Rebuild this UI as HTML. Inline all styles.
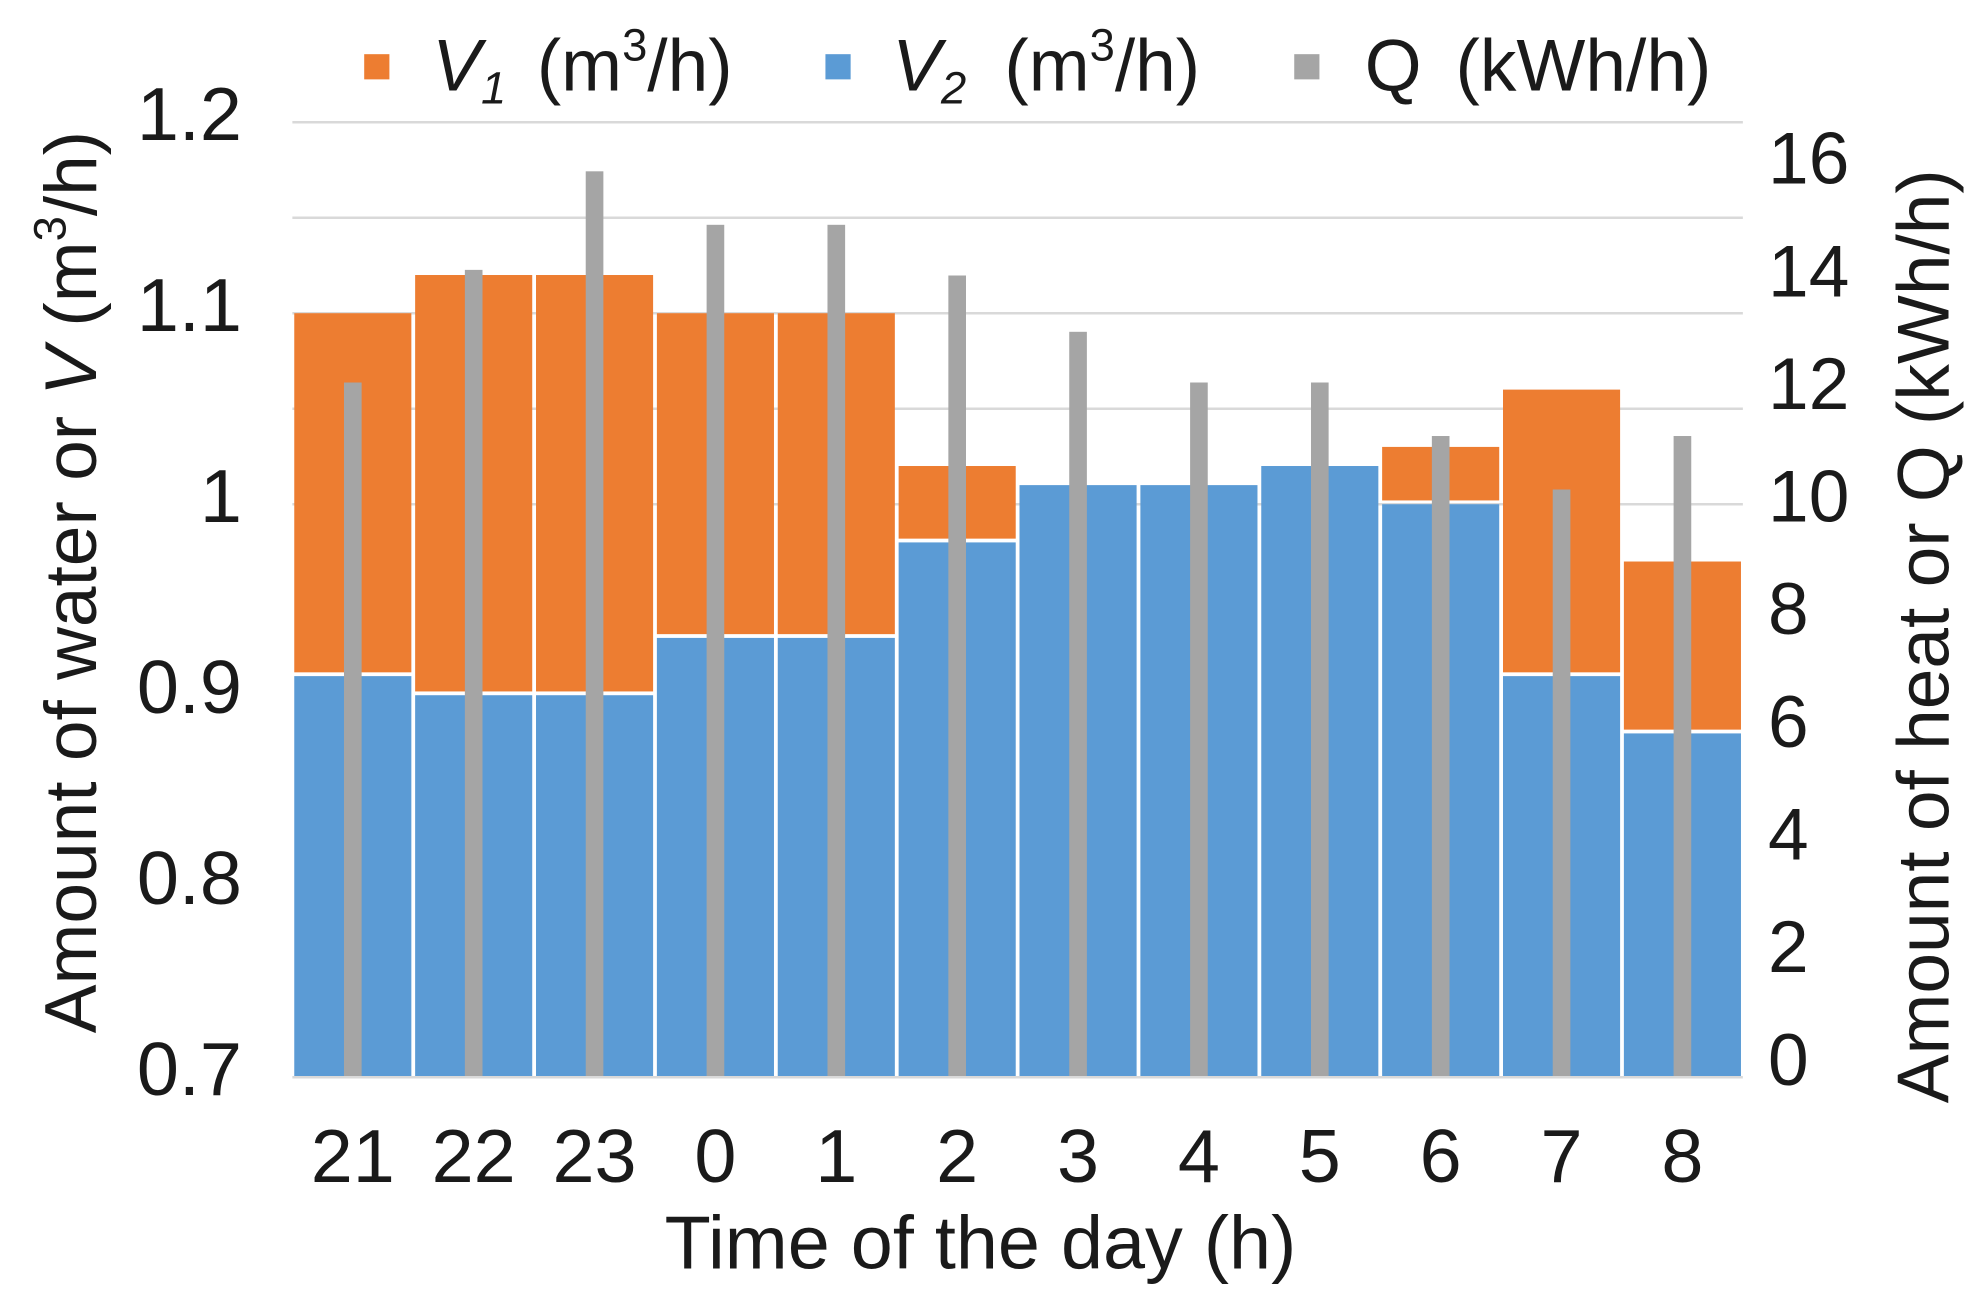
<!DOCTYPE html>
<html><head><meta charset="utf-8"><style>
html,body{margin:0;padding:0;background:#fff}
svg{display:block}
text{font-family:"Liberation Sans",Arial,sans-serif;fill:#1a1a1a}
</style></head><body>
<svg id="chart" width="1976" height="1304" viewBox="0 0 1568 1035" preserveAspectRatio="none">
<g id="grid"></g>
<g id="bars"></g>
<g id="axes"></g>
<g>
 <rect x="289" y="43" width="20" height="20" fill="#ED7D31"/>
 <text x="343" y="72" font-size="58"><tspan font-style="italic">V</tspan><tspan font-size="36" font-style="italic" dy="10">1</tspan><tspan dy="-10" x="426">(m</tspan><tspan font-size="36" dy="-24">3</tspan><tspan dy="24">/h)</tspan></text>
 <rect x="655" y="43" width="20" height="20" fill="#5B9BD5"/>
 <text x="708" y="72" font-size="58"><tspan font-style="italic">V</tspan><tspan font-size="36" font-style="italic" dy="10">2</tspan><tspan dy="-10" x="797">(m</tspan><tspan font-size="36" dy="-24">3</tspan><tspan dy="24">/h)</tspan></text>
 <rect x="1027" y="43" width="20" height="20" fill="#A5A5A5"/>
 <text x="1083" y="72" font-size="58">Q<tspan x="1155">(kWh/h)</tspan></text>
</g>
<text transform="translate(76,462) rotate(-90)" text-anchor="middle" font-size="58">Amount of water or <tspan font-style="italic">V</tspan> (m<tspan font-size="36" dy="-24">3</tspan><tspan dy="24">/h)</tspan></text>
<text transform="translate(1546,505) rotate(-90)" text-anchor="middle" font-size="58">Amount of heat or Q (kWh/h)</text>
<text x="778" y="1007" text-anchor="middle" font-size="60">Time of the day (h)</text>
</svg>
<script>
const categories=["21","22","23","0","1","2","3","4","5","6","7","8"];
const v2Values=[0.91,0.90,0.90,0.93,0.93,0.98,1.01,1.01,1.02,1.00,0.91,0.88];
const totalValues=[1.10,1.12,1.12,1.10,1.10,1.02,1.01,1.01,1.02,1.03,1.06,0.97];
const qValues=[12.0,14.0,15.75,14.8,14.8,13.9,12.9,12.0,12.0,11.05,10.1,11.05];
const leftTicks=[0.7,0.8,0.9,1.0,1.1,1.2];
const leftTickLabels=["0.7","0.8","0.9","1","1.1","1.2"];
const rightTicks=[0,2,4,6,8,10,12,14,16];
const NS="http://www.w3.org/2000/svg";
const X0=232,X1=1383,YB=855,YT=97;
const yL=v=>YB-(v-0.7)/(0.5)*(YB-YT);
const yR=q=>840-q*44.7;
const bw=(X1-X0)/categories.length;
const xC=i=>X0+bw*(i+0.5);
function mk(tag,attrs,parent){const e=document.createElementNS(NS,tag);for(const k in attrs)e.setAttribute(k,attrs[k]);parent.appendChild(e);return e;}
const grid=document.getElementById('grid'),bars=document.getElementById('bars'),axes=document.getElementById('axes');
for(let v=1.0;v<=1.2001;v+=0.05){
 const l=mk('line',{x1:X0,x2:X1,y1:yL(v),y2:yL(v),stroke:'#d9d9d9','stroke-width':2},grid);
 
 
}
categories.forEach((c,i)=>{
 const x=X0+bw*i+1.5,w=bw-3;
 const b=mk('rect',{x:x,y:yL(v2Values[i]),width:w,height:YB-yL(v2Values[i]),fill:'#5B9BD5'},bars);
 
 
 if(totalValues[i]>v2Values[i]){
  const o=mk('rect',{x:x,y:yL(totalValues[i]),width:w,height:yL(v2Values[i])-yL(totalValues[i])-3,fill:'#ED7D31'},bars);
  
  
 }
 const q=mk('rect',{x:xC(i)-7,y:yR(qValues[i]),width:14,height:YB-yR(qValues[i]),fill:'#A5A5A5'},bars);
 
 
 const t=mk('text',{x:xC(i),y:938,'text-anchor':'middle','font-size':60},axes);
 t.textContent=c;
 
 
});
const base=mk('line',{x1:X0,x2:X1,y1:YB,y2:YB,stroke:'#d9d9d9','stroke-width':2},axes);


leftTicks.forEach((v,i)=>{
 const t=mk('text',{x:192,y:yL(v)+14,'text-anchor':'end','font-size':60},axes);
 t.textContent=leftTickLabels[i];
 
 
});
rightTicks.forEach(v=>{
 const t=mk('text',{x:1403,y:yR(v)+21,'text-anchor':'start','font-size':58},axes);
 t.textContent=String(v);
 
 
});
</script>
</body></html>
